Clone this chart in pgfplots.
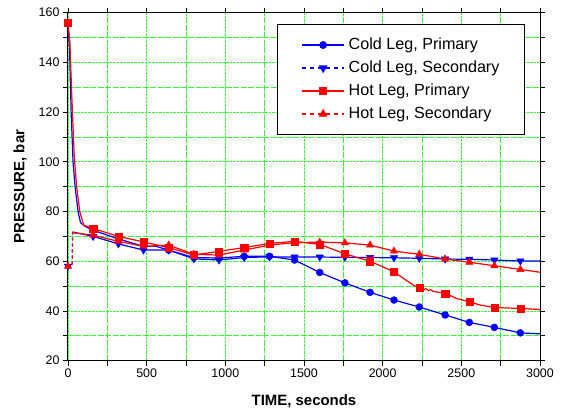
\documentclass[border=0pt]{standalone}
\usepackage{fontspec}
\setmainfont{Liberation Sans}
\usepackage{pgfplots}
\pgfplotsset{compat=1.18}
\definecolor{gridgreen}{RGB}{50,250,50}
\definecolor{cblue}{RGB}{0,0,255}
\definecolor{cred}{RGB}{255,0,0}
\begin{document}
\begin{tikzpicture}
\begin{axis}[
  scale only axis, width=472bp, height=348bp,
  xmin=0, xmax=3000, ymin=20, ymax=160,
  xtick={0,500,...,3000}, ytick={20,40,...,160},
  minor x tick num=1, minor y tick num=1,
  grid=both,
  major grid style={gridgreen, densely dotted, line width=0.9bp},
  minor grid style={gridgreen, dash pattern=on 6bp off 1.5bp, line width=0.9bp},
  tick align=outside, major tick length=5bp, minor tick length=5bp,
  tick style={black, line width=0.8bp},
  axis line style={line width=1bp},
  /pgf/number format/assume math mode=true,
  /pgf/number format/1000 sep={},
  scaled ticks=false,
  tick label style={font=\fontsize{12.5}{14}\selectfont},
  xlabel={TIME, seconds}, ylabel={PRESSURE, bar},
  every axis x label/.style={at={(axis description cs:0.5,0)}, yshift=-41bp, anchor=center, font=\bfseries\fontsize{15}{18}\selectfont},
  every axis y label/.style={at={(axis description cs:0,0.5)}, xshift=-48bp, rotate=90, anchor=center, font=\bfseries\fontsize{15}{18}\selectfont},
  legend image code/.code={\draw[#1, mark=none] (0bp,0bp) -- (42bp,0bp); \draw[#1, solid] plot coordinates {(21bp,0bp)};},
  legend style={at={(axis description cs:0.443,0.968)}, anchor=north west,
    font=\fontsize{16.2}{19}\selectfont, draw=black, line width=0.9bp,
    inner xsep=24bp, inner ysep=12bp, row sep=5.5bp, column sep=3bp,
    nodes={inner sep=1bp, text height=12bp, text depth=3.5bp}},
  legend cell align=left,
]
% ---- lines ----
\addplot[cblue, line width=1.2bp, forget plot] coordinates {
(0,156) (10,145) (20,120) (32,100) (45,90) (64,80) (80,75.5) (110,74) (160,72.5)
(320,69) (480,66) (560,66) (640,64.5) (800,61.5) (960,61.3) (1120,62) (1280,62) (1440,60.5)
(1600,55.5) (1760,51.3) (1920,47.5) (2072,44.4) (2233,41.6) (2397,38.4) (2551,35.4)
(2710,33.4) (2875,31.2) (3000,30.8)};
\addplot[cblue, line width=1.2bp, dashed, forget plot] coordinates {(0,58) (26,58) (29,71.8)};
\addplot[cblue, line width=1.2bp, forget plot] coordinates {
(29,71.8) (160,70) (320,67) (480,64.5) (640,64.5) (800,61) (960,60.5) (1120,61.5) (1280,61.8)
(1440,61.7) (1600,61.7) (1760,61.6) (1920,61.5) (2072,61.4) (2233,61.2) (2397,60.9)
(2551,60.8) (2710,60.5) (2875,60.1) (3000,60.1)};
\addplot[cred, line width=1.2bp, forget plot] coordinates {
(0,156) (12,148) (25,125) (40,102) (55,90) (75,80) (100,74.5) (160,73.2)
(320,70) (480,67.8) (640,65.5) (800,62.5) (960,64) (1120,65.5) (1280,67.2) (1440,68)
(1600,66.8) (1760,63) (1920,60) (2072,55.8) (2132,53.1) (2195,50.4) (2233,49.3)
(2260,48.6) (2275,49) (2290,48.2) (2305,48.6) (2320,47.9) (2397,47.1) (2471,45)
(2551,43.7) (2619,42.4) (2710,41.4) (2875,41.0) (3000,40.6)};
\addplot[cred, line width=1.2bp, dashed, forget plot] coordinates {(0,58) (27,58) (30,71.5)};
\addplot[cred, line width=1.2bp, forget plot] coordinates {
(30,71.5) (160,70.5) (320,68) (480,66) (640,66.5) (800,62.8) (960,62.5) (1120,64.5)
(1280,66.5) (1440,67.5) (1600,67.7) (1760,67.4) (1920,66.5) (2072,64.1) (2233,62.8)
(2397,60.9) (2551,59.6) (2710,58.2) (2875,56.7) (3000,55.6)};
% ---- markers ----
\addplot[cblue, only marks, mark=*, mark size=3.5bp, forget plot] coordinates {
(0,156) (160,72.5) (320,69) (480,66) (640,64.5) (800,61.5) (960,61.3) (1120,62) (1280,62)
(1440,60.5) (1600,55.5) (1760,51.3) (1920,47.5) (2072,44.4) (2233,41.6) (2397,38.4)
(2551,35.4) (2710,33.4) (2875,31.2)};
\addplot[cblue, only marks, mark=triangle*, mark options={rotate=180}, mark size=4.2bp, forget plot] coordinates {
(0,58) (160,70) (320,67) (480,64.5) (640,64.5) (800,61) (960,60.5) (1120,61.5) (1280,61.8)
(1440,61.7) (1600,61.7) (1760,61.6) (1920,61.5) (2072,61.4) (2233,61.2) (2397,60.9)
(2551,60.8) (2710,60.5) (2875,60.1)};
\addplot[cred, only marks, mark=square*, mark size=3.6bp, forget plot] coordinates {
(0,156) (160,73.2) (320,70) (480,67.8) (640,65.5) (800,62.5) (960,64) (1120,65.5) (1280,67.2)
(1440,68) (1600,66.8) (1760,63) (1920,60) (2072,55.8) (2233,49.3) (2397,47.1) (2551,43.7)
(2710,41.4) (2875,41.0)};
\addplot[cred, only marks, mark=triangle*, mark size=4.2bp, forget plot] coordinates {
(0,58) (160,70.5) (320,68) (480,66) (640,66.5) (800,62.8) (960,62.5) (1120,64.5) (1280,66.5)
(1440,67.5) (1600,67.7) (1760,67.4) (1920,66.5) (2072,64.1) (2233,62.8) (2397,60.9)
(2551,59.6) (2710,58.2) (2875,56.7)};
% ---- legend ----
\addlegendimage{cblue, line width=1.2bp, mark=*, mark size=3.3bp}
\addlegendentry{Cold Leg, Primary}
\addlegendimage{cblue, line width=1.2bp, dash pattern=on 4bp off 4bp, mark=triangle*, mark options={rotate=180}, mark size=4bp}
\addlegendentry{Cold Leg, Secondary}
\addlegendimage{cred, line width=1.2bp, mark=square*, mark size=3.4bp}
\addlegendentry{Hot Leg, Primary}
\addlegendimage{cred, line width=1.2bp, dash pattern=on 4bp off 4bp, mark=triangle*, mark size=4bp}
\addlegendentry{Hot Leg, Secondary}
\end{axis}
\path ([xshift=-68bp,yshift=-53.4bp]current axis.south west) rectangle ([xshift=22bp,yshift=12.7bp]current axis.north east);
\end{tikzpicture}
\end{document}
